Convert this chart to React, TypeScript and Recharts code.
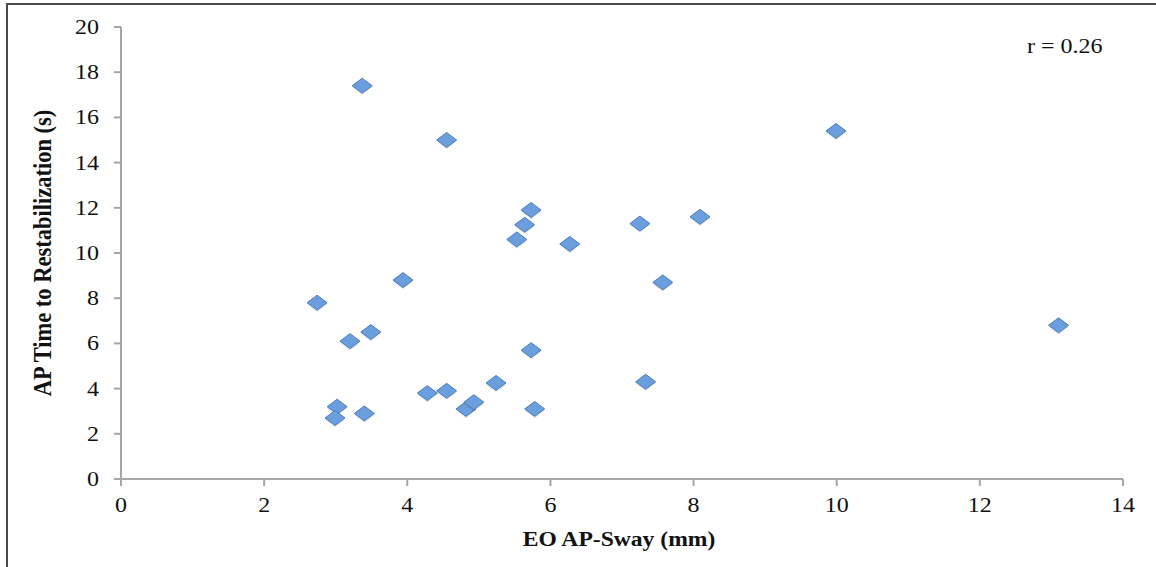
import React from 'react';
import { ScatterChart, Scatter, XAxis, YAxis, Label } from 'recharts';

const markerFill = '#6b9edc';
const markerStroke = '#4a7cbc';
const axisGray = '#a6a6a6';
const serif = '"Liberation Serif", "Times New Roman", serif';
const stretch = 1.2; // the original picture is a bit wider than tall

// EO AP-Sway (mm) vs AP Time to Restabilization (s)
const swayValues = [3.37, 4.55, 9.99, 5.73, 5.64, 5.53, 6.27, 7.25, 8.09, 3.94, 2.74, 7.57, 3.49, 3.2, 13.1, 5.73, 4.28, 4.55, 5.24, 7.33, 3.02, 2.99, 3.4, 4.82, 4.93, 5.78];
const timeValues = [17.4, 15.0, 15.4, 11.9, 11.25, 10.6, 10.4, 11.3, 11.6, 8.8, 7.8, 8.7, 6.5, 6.1, 6.8, 5.7, 3.8, 3.9, 4.25, 4.3, 3.2, 2.7, 2.9, 3.1, 3.4, 3.1];

const xTicks = [0, 2, 4, 6, 8, 10, 12, 14];
const yTicks = [0, 2, 4, 6, 8, 10, 12, 14, 16, 18, 20];

const points = swayValues.map((x, i) => ({ x, y: timeValues[i] }));

const Diamond = (props: any) => {
  const { cx, cy } = props;
  if (cx == null || cy == null) return null;
  const w = 10;
  const h = 7.5;
  return (
    <g>
      <polygon
        points={`${cx},${cy - h + 2} ${cx + w},${cy + 2} ${cx},${cy + h + 2} ${cx - w},${cy + 2}`}
        fill="#000"
        opacity={0.08}
      />
      <polygon
        points={`${cx},${cy - h} ${cx + w},${cy} ${cx},${cy + h} ${cx - w},${cy}`}
        fill={markerFill}
        stroke={markerStroke}
        strokeWidth={1}
      />
    </g>
  );
};

const StretchedTick = (props: any) => {
  const { x, y, payload, textAnchor, vertical } = props;
  return (
    <text
      x={x}
      y={y}
      dy={vertical ? '0.355em' : '0.71em'}
      textAnchor={textAnchor}
      fill="#111"
      fontSize={20}
      fontFamily={serif}
      transform={`translate(${x} ${y}) scale(${stretch} 1) translate(${-x} ${-y})`}
    >
      {payload.value}
    </text>
  );
};

const XTitle = (props: any) => {
  const { viewBox } = props;
  const cx = viewBox.x + viewBox.width / 2 - 3;
  const y = viewBox.y + 67;
  return (
    <text
      x={cx}
      y={y}
      textAnchor="middle"
      fill="#111"
      fontSize={20}
      fontWeight="bold"
      fontFamily={serif}
      transform={`translate(${cx} ${y}) scale(1.18 1) translate(${-cx} ${-y})`}
    >
      EO AP-Sway (mm)
    </text>
  );
};

const YTitle = (props: any) => {
  const { viewBox } = props;
  const cy = viewBox.y + viewBox.height / 2;
  return (
    <text
      x={0}
      y={0}
      textAnchor="middle"
      dominantBaseline="central"
      fill="#111"
      fontSize={22.5}
      fontWeight="bold"
      fontFamily={serif}
      transform={`translate(43 ${cy}) scale(1.1 1) rotate(-90)`}
    >
      AP Time to Restabilization (s)
    </text>
  );
};

const App = () => {
  return (
    <div style={{ position: 'absolute', left: 0, top: 0, width: 1156, height: 567, background: '#fff' }}>
      {/* frame: only left and top edges are visible */}
      <div
        style={{
          position: 'absolute',
          left: 6,
          top: 3,
          width: 1150,
          height: 564,
          borderLeft: '2px solid #4a4a4a',
          borderTop: '2px solid #4a4a4a',
          boxSizing: 'border-box',
        }}
      />
      <ScatterChart width={1156} height={567} margin={{ top: 27, right: 33, left: 0, bottom: 0 }}>
        <XAxis
          type="number"
          dataKey="x"
          domain={[0, 14]}
          ticks={xTicks}
          interval={0}
          height={88}
          tickSize={7}
          tickMargin={12}
          axisLine={{ stroke: axisGray, strokeWidth: 2 }}
          tickLine={{ stroke: axisGray, strokeWidth: 2 }}
          tick={<StretchedTick />}
        >
          <Label content={<XTitle />} />
        </XAxis>
        <YAxis
          type="number"
          dataKey="y"
          domain={[0, 20]}
          ticks={yTicks}
          interval={0}
          width={121}
          tickSize={7}
          tickMargin={15}
          axisLine={{ stroke: axisGray, strokeWidth: 2 }}
          tickLine={{ stroke: axisGray, strokeWidth: 2 }}
          tick={<StretchedTick vertical />}
        >
          <Label content={<YTitle />} />
        </YAxis>
        <Scatter data={points} shape={<Diamond />} isAnimationActive={false} />
      </ScatterChart>
      <div
        style={{
          position: 'absolute',
          left: 1027,
          top: 33,
          fontFamily: serif,
          fontSize: 20,
          color: '#111',
          lineHeight: '26px',
          whiteSpace: 'nowrap',
          transform: `scaleX(${stretch})`,
          transformOrigin: 'left center',
        }}
      >
        r = 0.26
      </div>
    </div>
  );
};

export default App;
